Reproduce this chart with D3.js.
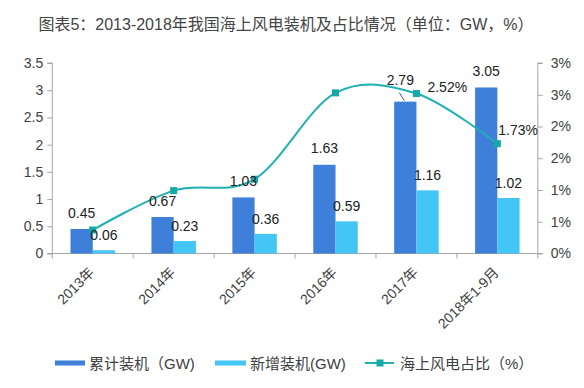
<!DOCTYPE html>
<html><head><meta charset="utf-8">
<script src="https://cdn.jsdelivr.net/npm/d3@7"></script>
<style>
html,body{margin:0;padding:0;background:#fff;}
text{font-family:"Liberation Sans","Noto Sans CJK SC",sans-serif;}
</style></head>
<body><svg id="c" width="584" height="388"></svg>
<script>
const categories = ["2013年","2014年","2015年","2016年","2017年","2018年1-9月"];
const cumulative = [0.45,0.67,1.03,1.63,2.79,3.05];
const added = [0.06,0.23,0.36,0.59,1.16,1.02];
const share = [0.0037,0.0099,0.0117,0.0253,0.0252,0.0173];
const shareLabels = [null,null,null,null,"2.52%","1.73%"];
const leftTicks = [0,0.5,1,1.5,2,2.5,3,3.5];
const rightTicks = [0,0.005,0.01,0.015,0.02,0.025,0.03];
const seriesNames = ["累计装机（GW)","新增装机(GW)","海上风电占比（%）"];
const titleText = "图表5：2013-2018年我国海上风电装机及占比情况（单位：GW，%）";

const C_DARK="#3d7fd9", C_LIGHT="#43c5f5", C_LINE="#1fb0b3", C_AXIS="#a6a6a6", C_TEXT="#404040";
const svg = d3.select("#c");
const L=52.3, R=537.8, B=253.5, T=63;

const x = d3.scaleBand().domain(categories).range([L,R]).padding(0);
const x1 = d3.scaleBand().domain(["cum","add"]).range([0,x.bandwidth()]).paddingInner(0).paddingOuter(0.82);
const y = d3.scaleLinear().domain([0,3.5]).range([B,T]);
const yr = d3.scaleLinear().domain([0,0.03]).range([B,T]);

// title
svg.append("text").attr("x",286).attr("y",30).attr("text-anchor","middle")
  .attr("font-size",16).attr("fill","#444").text(titleText);

// axes
const gl = svg.append("g").attr("transform",`translate(${L},0)`)
  .call(d3.axisLeft(y).tickValues(leftTicks).tickSize(5).tickPadding(4).tickFormat(d3.format("")));
const gr = svg.append("g").attr("transform",`translate(${R},0)`)
  .call(d3.axisRight(yr).tickValues(rightTicks).tickSize(5).tickPadding(8).tickFormat(d3.format(".0%")));
[gl,gr].forEach(g=>{
  g.select(".domain").attr("stroke",C_AXIS).attr("d", g===gl ? `M-5,${T}H0V${B}H-5` : `M5,${T}H0V${B}H5`);
  g.selectAll(".tick line").attr("stroke",C_AXIS);
  g.selectAll("text").attr("font-size",14).attr("fill",C_TEXT);
});
// bottom axis
const gb = svg.append("g");
gb.append("line").attr("x1",L).attr("x2",R).attr("y1",B).attr("y2",B).attr("stroke",C_AXIS);
const bounds = categories.map(c=>x(c)).concat([x(categories[categories.length-1])+x.bandwidth()]);
gb.selectAll(".bt").data(bounds).join("line").attr("x1",d=>d).attr("x2",d=>d)
  .attr("y1",B).attr("y2",B+5).attr("stroke",C_AXIS);
gb.selectAll(".xl").data(categories).join("text")
  .attr("transform",d=>`translate(${x(d)+x.bandwidth()/2-5},266) rotate(-45)`)
  .attr("text-anchor","end").attr("dy","0.75em").attr("font-size",14).attr("fill",C_TEXT).text(d=>d);

// bars
const bars = svg.append("g");
bars.selectAll(".b1").data(categories).join("rect")
  .attr("x",(d)=>x(d)+x1("cum")).attr("width",x1.bandwidth())
  .attr("y",(d,i)=>y(cumulative[i])).attr("height",(d,i)=>B-y(cumulative[i])).attr("fill",C_DARK);
bars.selectAll(".b2").data(categories).join("rect")
  .attr("x",(d)=>x(d)+x1("add")).attr("width",x1.bandwidth())
  .attr("y",(d,i)=>y(added[i])).attr("height",(d,i)=>B-y(added[i])).attr("fill",C_LIGHT);

// line
const cx = d=>x(d)+x.bandwidth()/2;
const line = d3.line().x((d,i)=>cx(categories[i])).y(d=>yr(d)).curve(d3.curveCardinal.tension(0));
svg.append("path").datum(share).attr("d",line).attr("fill","none").attr("stroke",C_LINE).attr("stroke-width",2);
svg.selectAll(".mk").data(share).join("rect")
  .attr("x",(d,i)=>cx(categories[i])-3.5).attr("y",d=>yr(d)-3.5).attr("width",7).attr("height",7).attr("fill","#14a9a9");

// bar labels
const lab = svg.append("g").attr("font-size",14).attr("fill","#222").attr("text-anchor","middle");
lab.selectAll(".l1").data(categories).join("text")
  .attr("x",(d,i)=>x(d)+x1("cum")+x1.bandwidth()/2 + (i===4?-5:0))
  .attr("y",(d,i)=>y(cumulative[i]) - (i===4?17:11.5))
  .text((d,i)=>cumulative[i].toFixed(2));
lab.selectAll(".l2").data(categories).join("text")
  .attr("x",(d,i)=>x(d)+x1("add")+x1.bandwidth()/2)
  .attr("y",(d,i)=>y(added[i])-10)
  .text((d,i)=>added[i].toFixed(2));
// leader line for 2017
{
  const i=4, bx = x(categories[i])+x1("cum")+x1.bandwidth()/2;
  svg.append("line").attr("x1",bx-6).attr("y1",y(cumulative[i])-9).attr("x2",bx-1).attr("y2",y(cumulative[i])-1)
    .attr("stroke","#555").attr("stroke-width",1);
}
// share labels
const shareData = share.map((v,i)=>({v,i,t:shareLabels[i]})).filter(d=>d.t);
svg.append("g").selectAll("text").data(shareData).join("text")
  .attr("x",d=>cx(categories[d.i]) + (d.i===4?11:1))
  .attr("y",d=>yr(d.v) + (d.i===4?-1:-9))
  .attr("font-size",14).attr("fill","#222")
  .text(d=>d.t);

// legend
const lg = svg.append("g").attr("font-size",15).attr("fill",C_TEXT);
lg.append("rect").attr("x",55).attr("y",360.5).attr("width",30).attr("height",5).attr("fill",C_DARK);
lg.append("text").attr("x",89).attr("y",369).text(seriesNames[0]);
lg.append("rect").attr("x",215).attr("y",360.5).attr("width",31).attr("height",5).attr("fill",C_LIGHT);
lg.append("text").attr("x",250).attr("y",369).text(seriesNames[1]);
lg.append("line").attr("x1",365).attr("x2",394).attr("y1",363).attr("y2",363).attr("stroke",C_LINE).attr("stroke-width",2);
lg.append("rect").attr("x",376.5).attr("y",359.5).attr("width",7).attr("height",7).attr("fill","#14a9a9");
lg.append("text").attr("x",400).attr("y",369).text(seriesNames[2]);
</script></body></html>
